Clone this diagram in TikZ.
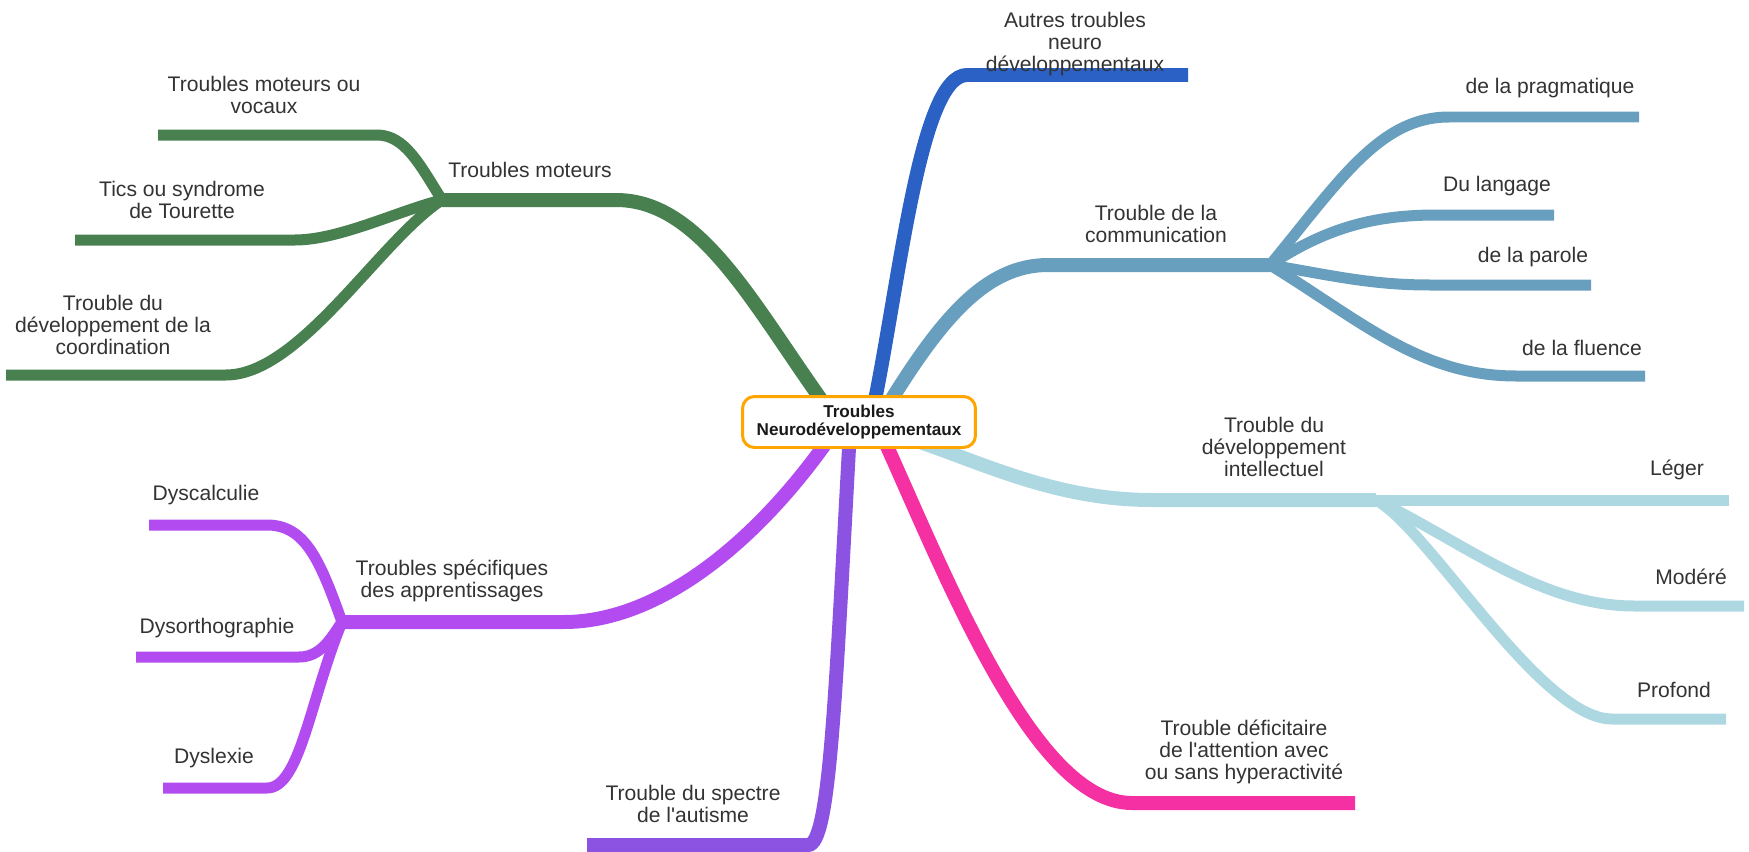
\documentclass[tikz,border=0pt]{standalone}
\usepackage{fontspec}
\setmainfont{Liberation Sans}

\definecolor{motorgreen}{RGB}{72,128,80}
\definecolor{otherblue}{RGB}{43,96,196}
\definecolor{commblue}{RGB}{104,158,190}
\definecolor{intelblue}{RGB}{173,216,226}
\definecolor{adhdpink}{RGB}{245,48,162}
\definecolor{asdviolet}{RGB}{140,82,226}
\definecolor{learnpurple}{RGB}{178,76,240}
\definecolor{rootorange}{RGB}{255,165,0}
\definecolor{labelgray}{RGB}{51,51,51}

\begin{document}
\begin{tikzpicture}[x=0.02cm, y=-0.02cm,
  trunk/.style={line width=0.28cm},
  twig/.style={line width=0.22cm},
  lbl/.style={align=center, inner sep=0pt, text=labelgray, font=\fontsize{12}{12.5}\selectfont},
  rootbox/.style={draw=rootorange, line width=1.7pt, fill=white, rounded corners=0.24cm,
    minimum width=4.66cm, minimum height=1.02cm, align=center, text=black!90,
    font=\bfseries\fontsize{9.75}{10.3}\selectfont}]
\useasboundingbox (0,0) rectangle (1749,852);

% centre and junctions (pixel frame, y downwards)
\coordinate (C) at (859,422);
\coordinate (J1) at (442,200);
\coordinate (J3) at (1270,265);
\coordinate (J4) at (1376,500);
\coordinate (J5) at (342,622);

% free ends
\coordinate (E_auto) at (1188,75);
\coordinate (E_asd) at (587,845);
\coordinate (E_adhd) at (1355,803);
\coordinate (E_voc) at (158,135);
\coordinate (E_tic) at (75,240);
\coordinate (E_tdc) at (6,375);
\coordinate (E_prag) at (1639,117);
\coordinate (E_lang) at (1554,215);
\coordinate (E_par) at (1591,285);
\coordinate (E_flu) at (1645,376);
\coordinate (E_leg) at (1729,500);
\coordinate (E_mod) at (1744,606);
\coordinate (E_pro) at (1726,719);
\coordinate (E_calc) at (149,525);
\coordinate (E_orth) at (136,657);
\coordinate (E_lex) at (163,788);

% Troubles moteurs
\draw[trunk, motorgreen] ([shift={(-34,-17)}] C) .. controls (752,303) and (700,200) .. (616,200) -- (J1);
\draw[twig, motorgreen] (J1) .. controls (420,165) and (405,135) .. (377,135) -- (E_voc);
\draw[twig, motorgreen] (J1) .. controls (400,210) and (340,240) .. (295,240) -- (E_tic);
\draw[twig, motorgreen] (J1) .. controls (380,240) and (300,375) .. (226,375) -- (E_tdc);

% autres troubles
\draw[trunk, otherblue] ([shift={(14,-12)}] C) .. controls (900,280) and (920,75) .. (967,75) -- (E_auto);

% communication
\draw[trunk, commblue] ([shift={(26,-12)}] C) .. controls (940,320) and (985,265) .. (1048,265) -- (J3);
\draw[twig, commblue] (J3) .. controls (1340,180) and (1380,117) .. (1449,117) -- (E_prag);
\draw[twig, commblue] (J3) .. controls (1330,225) and (1380,215) .. (1437,215) -- (E_lang);
\draw[twig, commblue] (J3) .. controls (1330,275) and (1370,285) .. (1430,285) -- (E_par);
\draw[twig, commblue] (J3) .. controls (1360,320) and (1420,376) .. (1516,376) -- (E_flu);

% intellectuel
\draw[trunk, intelblue] ([shift={(21,8)}] C) .. controls (960,450) and (1040,500) .. (1152,500) -- (J4);
\draw[twig, intelblue] (J4) -- (E_leg);
\draw[twig, intelblue] (J4) .. controls (1460,540) and (1540,606) .. (1634,606) -- (E_mod);
\draw[twig, intelblue] (J4) .. controls (1430,530) and (1540,719) .. (1612,719) -- (E_pro);

% TDAH
\draw[trunk, adhdpink] ([shift={(16,-2)}] C) .. controls (940,560) and (1030,803) .. (1132,803) -- (E_adhd);

% autisme
\draw[trunk, asdviolet] ([shift={(-9,8)}] C) .. controls (835,700) and (830,845) .. (808,845) -- (E_asd);

% apprentissages
\draw[trunk, learnpurple] ([shift={(-24,8)}] C) .. controls (760,540) and (660,622) .. (564,622) -- (J5);
\draw[twig, learnpurple] (J5) .. controls (320,560) and (305,525) .. (267,525) -- (E_calc);
\draw[twig, learnpurple] (J5) .. controls (330,640) and (320,657) .. (299,657) -- (E_orth);
\draw[twig, learnpurple] (J5) .. controls (310,700) and (300,788) .. (267,788) -- (E_lex);

% labels
\node[lbl] (moteurs) at (530,170) {Troubles moteurs};
\node[lbl] (vocaux) at (264,95) {Troubles moteurs ou\\vocaux};
\node[lbl] (tics) at (182,200) {Tics ou syndrome\\de Tourette};
\node[lbl] (coord) at (113,325) {Trouble du\\développement de la\\coordination};
\node[lbl] (autres) at (1075,44) {Autres troubles\\neuro\\développementaux};
\node[lbl] (comm) at (1156,224) {Trouble de la\\communication};
\node[lbl] (prag) at (1550,88) {de la pragmatique};
\node[lbl] (lang) at (1497,186) {Du langage};
\node[lbl] (parole) at (1533,257) {de la parole};
\node[lbl] (fluence) at (1582,348) {de la fluence};
\node[lbl] (intel) at (1274,447) {Trouble du\\développement\\intellectuel};
\node[lbl] (leger) at (1677,470) {Léger};
\node[lbl] (modere) at (1691,577) {Modéré};
\node[lbl] (profond) at (1674,690) {Profond};
\node[lbl] (tdah) at (1244,752) {Trouble déficitaire\\de l\textquotesingle attention avec\\ou sans hyperactivité};
\node[lbl] (tsa) at (693,804) {Trouble du spectre\\de l\textquotesingle autisme};
\node[lbl] (tsap) at (452,581) {Troubles spécifiques\\des apprentissages};
\node[lbl] (calc) at (206,495) {Dyscalculie};
\node[lbl] (ortho) at (217,628) {Dysorthographie};
\node[lbl] (lexie) at (214,758) {Dyslexie};

% centre
\node[rootbox] (root) at (C) {Troubles\\Neurodéveloppementaux};

\end{tikzpicture}
\end{document}
